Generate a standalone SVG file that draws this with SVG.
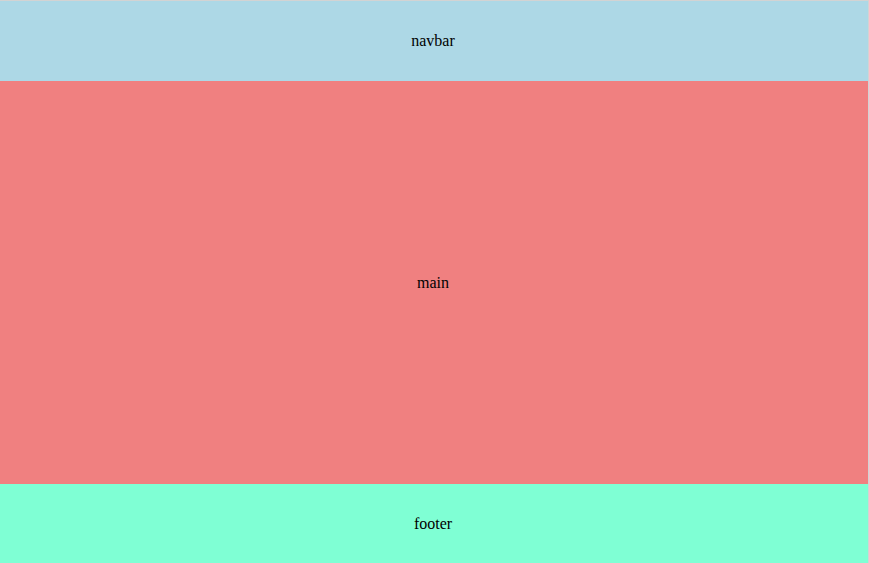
<svg xmlns="http://www.w3.org/2000/svg" width="869" height="563" viewBox="0 0 869 563">
<style>
text{font-family:'Liberation Serif','Times New Roman',serif;font-size:16px;fill:#000;text-anchor:middle}
</style>
<rect x="0" y="0" width="869" height="563" fill="#d3d3d3"/>
<g id="navbar"><rect x="0" y="1" width="868" height="80" fill="#ADD8E6"/><text x="433" y="46" font-family="Liberation Serif, serif">navbar</text></g>
<g id="main"><rect x="0" y="81" width="868" height="403" fill="#F08080"/><text x="433" y="288" font-family="Liberation Serif, serif">main</text></g>
<g id="footer"><rect x="0" y="484" width="868" height="79" fill="#7FFFD4"/><text x="433" y="529" font-family="Liberation Serif, serif">footer</text></g>
<g id="connectors"/>
</svg>
